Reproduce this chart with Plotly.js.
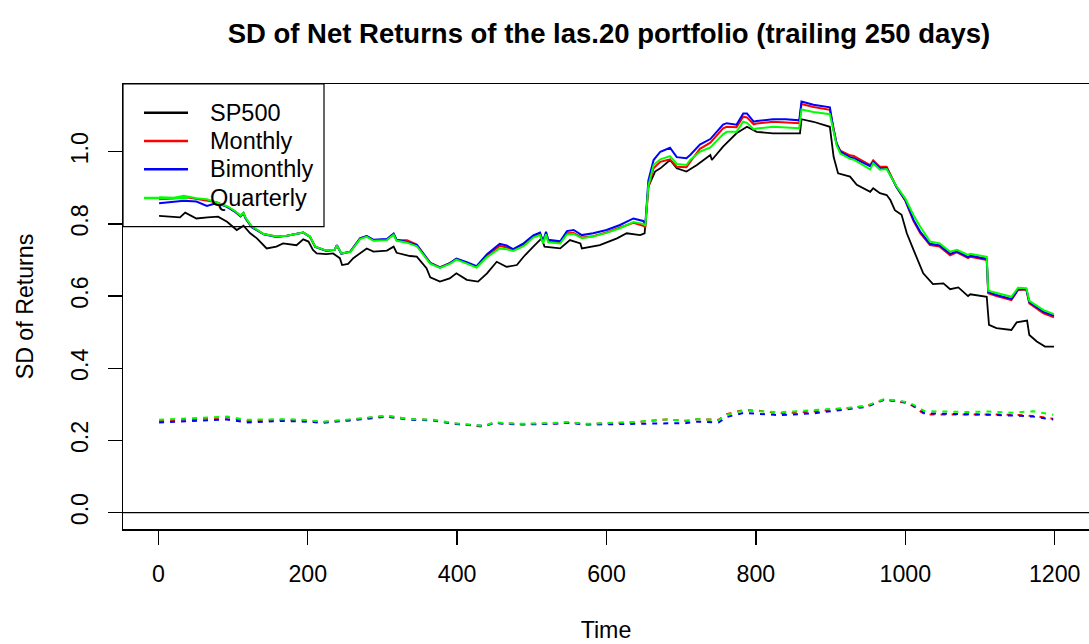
<!DOCTYPE html>
<html>
<head>
<meta charset="utf-8">
<script src="https://cdn.plot.ly/plotly-3.0.1.min.js"></script>
<style>html,body{margin:0;padding:0;background:#fff;overflow:hidden}#chart{width:1089px;height:644px}</style>
</head>
<body>
<div id="chart"></div>
<script>
// ---- data ----
const tSP = [1,29,36,51,66,80,92,100,105,114,123,132,145,158,167,185,194,201,207,212,225,234,243,246,254,261,270,279,288,306,315,319,337,346,359,364,377,390,399,413,428,440,453,466,480,489,502,513,517,538,551,565,567,591,614,627,645,651,656,660,665,672,685,694,707,721,739,741,756,774,788,801,823,859,861,877,899,904,910,926,935,953,957,966,975,980,986,995,1002,1011,1020,1024,1037,1051,1060,1071,1084,1087,1109,1112,1122,1142,1149,1163,1166,1176,1187,1199];
const sp500 = [0.822,0.818,0.831,0.815,0.818,0.820,0.806,0.792,0.783,0.795,0.774,0.760,0.732,0.737,0.746,0.741,0.757,0.751,0.728,0.718,0.716,0.718,0.705,0.686,0.689,0.705,0.718,0.732,0.723,0.726,0.737,0.720,0.711,0.709,0.677,0.652,0.640,0.649,0.663,0.645,0.640,0.663,0.695,0.681,0.686,0.709,0.737,0.760,0.737,0.732,0.755,0.746,0.732,0.741,0.760,0.774,0.769,0.774,0.903,0.922,0.945,0.954,0.977,0.954,0.945,0.963,0.991,0.977,1.014,1.051,1.069,1.055,1.051,1.051,1.090,1.083,1.069,0.986,0.940,0.931,0.908,0.889,0.899,0.885,0.880,0.866,0.838,0.825,0.774,0.728,0.681,0.663,0.633,0.635,0.619,0.624,0.600,0.605,0.598,0.520,0.511,0.506,0.527,0.532,0.492,0.474,0.460,0.460];

const tPort = [1,20,34,51,65,78,92,103,110,114,117,125,141,158,172,194,203,210,225,236,239,245,257,270,279,288,306,315,319,333,346,364,377,391,399,413,426,440,457,466,475,489,502,511,515,519,522,538,547,556,567,582,600,618,636,649,652,656,663,672,685,694,707,712,725,739,756,761,774,783,788,797,801,823,840,858,861,877,899,904,908,913,926,931,953,957,966,975,988,1000,1011,1020,1033,1046,1060,1069,1084,1087,1109,1111,1122,1142,1151,1162,1166,1185,1199];
const monthly = [0.868,0.870,0.875,0.869,0.866,0.860,0.848,0.834,0.822,0.830,0.815,0.792,0.772,0.765,0.767,0.776,0.765,0.737,0.726,0.728,0.741,0.718,0.723,0.760,0.766,0.755,0.757,0.772,0.755,0.755,0.743,0.692,0.680,0.692,0.703,0.692,0.681,0.712,0.739,0.735,0.728,0.741,0.765,0.772,0.749,0.774,0.752,0.749,0.774,0.775,0.762,0.766,0.776,0.790,0.803,0.795,0.790,0.900,0.954,0.972,0.979,0.958,0.957,0.972,1.008,1.025,1.065,1.069,1.068,1.097,1.095,1.076,1.078,1.083,1.082,1.079,1.132,1.124,1.116,1.060,1.023,1.003,0.990,0.988,0.963,0.976,0.958,0.958,0.903,0.864,0.808,0.774,0.741,0.737,0.713,0.721,0.705,0.709,0.700,0.608,0.600,0.589,0.617,0.618,0.580,0.552,0.541];
const bimonthly = [0.857,0.860,0.864,0.862,0.850,0.858,0.847,0.833,0.821,0.830,0.814,0.791,0.771,0.764,0.767,0.776,0.764,0.736,0.725,0.728,0.741,0.717,0.723,0.760,0.766,0.756,0.758,0.773,0.756,0.750,0.741,0.692,0.679,0.692,0.704,0.694,0.683,0.716,0.745,0.740,0.730,0.746,0.768,0.776,0.752,0.778,0.756,0.752,0.780,0.783,0.769,0.774,0.783,0.797,0.815,0.808,0.800,0.920,0.977,1.000,1.011,0.985,0.982,0.991,1.020,1.035,1.075,1.079,1.075,1.106,1.106,1.083,1.085,1.090,1.090,1.087,1.139,1.130,1.123,1.060,1.023,1.000,0.985,0.982,0.960,0.972,0.954,0.955,0.903,0.866,0.811,0.778,0.745,0.740,0.717,0.724,0.708,0.712,0.703,0.611,0.603,0.592,0.619,0.619,0.583,0.556,0.545];
const quarterly = [0.874,0.872,0.878,0.871,0.868,0.859,0.849,0.835,0.823,0.831,0.816,0.793,0.772,0.765,0.767,0.776,0.765,0.737,0.726,0.728,0.740,0.718,0.722,0.758,0.764,0.753,0.755,0.770,0.753,0.748,0.738,0.690,0.678,0.690,0.701,0.690,0.679,0.708,0.732,0.730,0.725,0.738,0.762,0.769,0.746,0.771,0.749,0.746,0.771,0.772,0.760,0.765,0.775,0.788,0.805,0.800,0.795,0.905,0.963,0.979,0.988,0.966,0.963,0.977,1.000,1.012,1.048,1.055,1.055,1.083,1.080,1.062,1.064,1.069,1.067,1.065,1.117,1.110,1.104,1.050,1.018,0.995,0.980,0.978,0.951,0.968,0.950,0.952,0.905,0.870,0.824,0.792,0.751,0.746,0.723,0.728,0.714,0.717,0.709,0.615,0.609,0.598,0.623,0.622,0.587,0.561,0.550];

const tDash = [1,47,92,118,163,190,221,261,306,332,369,395,422,436,449,484,529,547,573,605,636,680,707,721,750,761,783,801,832,877,922,948,971,988,1002,1010,1026,1055,1082,1113,1144,1171,1198];
const monthlyDash = [0.254,0.259,0.264,0.254,0.257,0.256,0.251,0.258,0.268,0.260,0.256,0.247,0.242,0.238,0.249,0.245,0.247,0.250,0.245,0.247,0.250,0.258,0.254,0.259,0.257,0.273,0.284,0.283,0.275,0.280,0.289,0.295,0.313,0.309,0.303,0.296,0.272,0.271,0.272,0.272,0.271,0.268,0.260];
const bimonthlyDash = [0.250,0.255,0.258,0.250,0.254,0.253,0.249,0.256,0.266,0.258,0.255,0.246,0.241,0.240,0.248,0.244,0.246,0.249,0.244,0.245,0.247,0.247,0.248,0.252,0.250,0.265,0.276,0.274,0.270,0.275,0.286,0.293,0.312,0.310,0.305,0.297,0.275,0.273,0.272,0.271,0.269,0.266,0.258];
const quarterlyDash = [0.257,0.261,0.266,0.257,0.259,0.258,0.252,0.259,0.269,0.260,0.257,0.248,0.242,0.240,0.250,0.246,0.248,0.251,0.246,0.248,0.251,0.258,0.255,0.259,0.256,0.271,0.283,0.281,0.278,0.284,0.290,0.296,0.314,0.311,0.306,0.300,0.281,0.280,0.279,0.280,0.277,0.281,0.271];

const xTicks = [0,200,400,600,800,1000,1200];
const yTicks = [0,0.2,0.4,0.6,0.8,1.0];
const yTickText = ["0.0","0.2","0.4","0.6","0.8","1.0"];
const seriesNames = ["SP500","Monthly","Bimonthly","Quarterly"];
const seriesColors = ["#000000","#FF0000","#0000FF","#00FF00"];

// ---- figure ----
const FONT = "Liberation Sans, Arial, Helvetica, sans-serif";
const W = 1089, H = 644;
const M = {l:123, r:0, t:84, b:115};

const solidY = [sp500, monthly, bimonthly, quarterly];
const solidX = [tSP, tPort, tPort, tPort];
const traces = [];
for (let i = 0; i < 4; i++) {
  traces.push({x: solidX[i], y: solidY[i], type:'scatter', mode:'lines', name: seriesNames[i],
    line:{color: seriesColors[i], width: i===0 ? 1.8 : 2}, showlegend:false, hoverinfo:'skip'});
}
const dashY = [monthlyDash, bimonthlyDash, quarterlyDash];
for (let i = 0; i < 3; i++) {
  traces.push({x: tDash, y: dashY[i], type:'scatter', mode:'lines', name: seriesNames[i+1]+' (dashed)',
    line:{color: seriesColors[i+1], width: 2, dash:'5px,6px'}, showlegend:false, hoverinfo:'skip'});
}

// legend built from names/colours (R style box)
const pw = W - M.l - M.r, ph = H - M.t - M.b;
const px2x = p => (p - M.l) / pw;
const py2y = p => (H - M.b - p) / ph;
const shapes = [
  {type:'line', xref:'paper', yref:'y', x0:0, x1:1, y0:0, y1:0, line:{color:'#000', width:1.1}},
  {type:'rect', xref:'paper', yref:'paper', x0:0, x1:px2x(324), y0:py2y(226.7), y1:1, line:{color:'#000', width:1.2}, fillcolor:'rgba(0,0,0,0)'}
];
const annotations = [];
const rowY = [112.7, 141, 169.3, 198];
seriesNames.forEach((n, i) => {
  shapes.push({type:'line', xref:'paper', yref:'paper', x0:px2x(144), x1:px2x(188), y0:py2y(rowY[i]), y1:py2y(rowY[i]),
    line:{color: seriesColors[i], width:2.4}});
  annotations.push({xref:'paper', yref:'paper', x:px2x(208), y:py2y(rowY[i]), text:n, showarrow:false,
    xanchor:'left', yanchor:'middle', font:{family:FONT, size:23.5, color:'#000'}});
});

const axisCommon = {showgrid:false, zeroline:false, showline:true, linecolor:'#000', linewidth:1.5,
  ticks:'outside', tickcolor:'#000', tickwidth:1.4, ticklen:14, ticklabelstandoff:10,
  tickfont:{family:FONT, size:23.2, color:'#000'}};

const layout = {
  width:W, height:H, margin:M, paper_bgcolor:'#fff', plot_bgcolor:'#fff', showlegend:false,
  title:{text:'SD of Net Returns of the las.20 portfolio (trailing 250 days)', font:{family:FONT, size:27.5, weight:'bold', color:'#000'},
    xref:'paper', x:0.503, xanchor:'center', yref:'container', y:1-33/H, yanchor:'middle'},
  xaxis: Object.assign({}, axisCommon, {range:[-47.3, 1245.9], tickvals:xTicks, ticktext:xTicks.map(String), mirror:true,
    title:{text:'Time', font:{family:FONT, size:23.2, color:'#000'}, standoff:35}}),
  yaxis: Object.assign({}, axisCommon, {range:[-0.0454, 1.1876], tickvals:yTicks, ticktext:yTickText, tickangle:-90,
    title:{text:'SD of Returns', font:{family:FONT, size:23.2, color:'#000'}, standoff:27}}),
  shapes: shapes, annotations: annotations
};

Plotly.newPlot('chart', traces, layout, {staticPlot:true, displayModeBar:false});
</script>
</body>
</html>
